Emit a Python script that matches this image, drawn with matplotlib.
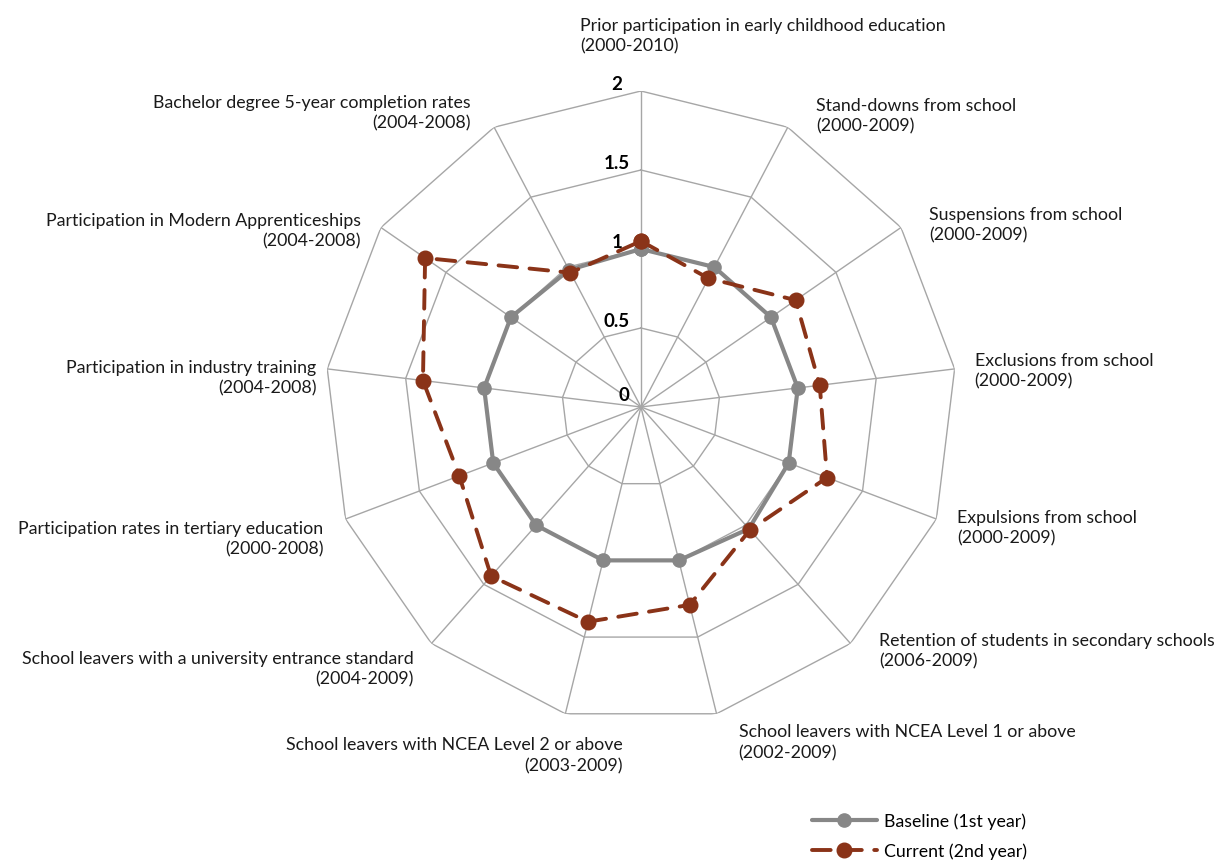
import numpy as np
import matplotlib
matplotlib.use("Agg")
import matplotlib.pyplot as plt

plt.rcParams['font.family'] = ['Lato', 'DejaVu Sans']

# categories (clockwise from the top)
categories = [
    "Prior participation in early childhood education\n(2000-2010)",
    "Stand-downs from school\n(2000-2009)",
    "Suspensions from school\n(2000-2009)",
    "Exclusions from school\n(2000-2009)",
    "Expulsions from school\n(2000-2009)",
    "Retention of students in secondary schools\n(2006-2009)",
    "School leavers with NCEA Level 1 or above\n(2002-2009)",
    "School leavers with NCEA Level 2 or above\n(2003-2009)",
    "School leavers with a university entrance standard\n(2004-2009)",
    "Participation rates in tertiary education\n(2000-2008)",
    "Participation in industry training\n(2004-2008)",
    "Participation in Modern Apprenticeships\n(2004-2008)",
    "Bachelor degree 5-year completion rates\n(2004-2008)",
]

baseline = [1.0, 1.0, 1.0, 1.0, 1.0, 1.03, 1.0, 1.0, 1.0, 1.0, 1.0, 1.0, 0.98]
current = [1.05, 0.92, 1.19, 1.14, 1.26, 1.04, 1.29, 1.40, 1.43, 1.23, 1.39, 1.66, 0.96]

ring_levels = [0.5, 1.0, 1.5, 2.0]
tick_labels = ["0", "0.5", "1", "1.5", "2"]

# label placement: (dx, dy) in pixels from the spoke end, alignment
label_offsets = [(-61, 56, 'left'), (28, 12, 'left'), (28, 3, 'left'),
                 (20, -1, 'left'), (21, -8, 'left'), (29, -7, 'left'),
                 (22, -28, 'left'), (57, -41, 'right'), (-18, -25, 'right'),
                 (-22, -19, 'right'), (-11, -8, 'right'), (-20, -3, 'right'),
                 (-23, 15, 'right')]

GRID = '#a6a6a6'
GREY = '#878787'
RED = '#8a3318'

n = len(categories)
theta = np.arange(n) * 2 * np.pi / n
theta_c = np.append(theta, theta[0])

fig = plt.figure(figsize=(12.24, 8.62), dpi=100)
ax = fig.add_axes([0.2655, 0.1601, 0.5163, 0.7332], projection='polar')
ax.set_theta_zero_location('N')
ax.set_theta_direction(-1)
ax.set_ylim(0, 2)
ax.grid(False)
ax.spines['polar'].set_visible(False)
ax.set_xticks([])
ax.set_yticks([])
ax.patch.set_visible(False)

# polygon grid
for lv in ring_levels:
    ax.plot(theta_c, [lv] * (n + 1), color=GRID, lw=1, zorder=1)
for t in theta:
    ax.plot([t, t], [0, 2], color=GRID, lw=1, zorder=1)

# value labels along the top spoke
for i, lab in enumerate(tick_labels):
    lv = i * 0.5
    dy = 7 if lv == 0 else 2
    dx = -17 if lv == 0 else -24
    ax.annotate(lab, xy=(0, lv), xytext=(dx, dy), textcoords='offset pixels',
                ha='center', va='baseline', fontsize=13.5, fontweight='bold')

ax.plot(theta_c, baseline + baseline[:1], color=GREY, lw=3, marker='o',
        markersize=9.5, solid_capstyle='round', zorder=3,
        label='Baseline (1st year)')
ax.plot(theta_c, current + current[:1], color=RED, lw=2.8, marker='o',
        markersize=10.5, dashes=(4.8, 3.2), dash_capstyle='round', zorder=4,
        label='Current (2nd year)')

for t, lab, (dx, dy, ha) in zip(theta, categories, label_offsets):
    ax.annotate(lab, xy=(t, 2), xytext=(dx, dy), textcoords='offset pixels',
                ha=ha, va='center', multialignment=ha, fontsize=12.8,
                linespacing=1.35, color='#1a1a1a', annotation_clip=False)

fig.legend(loc='upper left', bbox_to_anchor=(0.663, 0.056), frameon=False,
           fontsize=12.8, handlelength=3.7, handletextpad=0.4, labelspacing=0.75,
           borderpad=0, borderaxespad=0)

fig.savefig('out.png', dpi=100)
